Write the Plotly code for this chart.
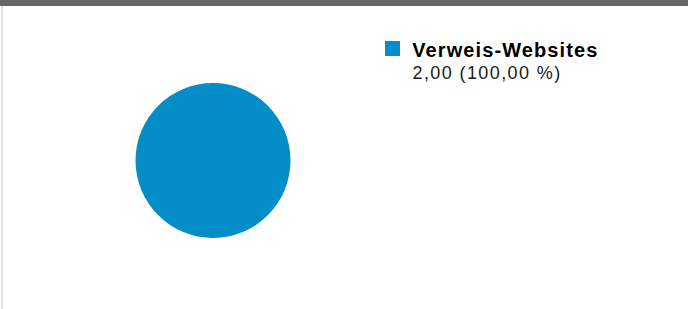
import plotly.graph_objects as go

labels = ["Verweis-Websites"]
values = [2.00]
colors = ["#058DC7"]

W, H = 688, 309
total = sum(values)
LS = [1.1, 1.4]  # letter spacing for legend label / value line (px)

fig = go.Figure()
fig.add_trace(go.Pie(
    labels=labels, values=values,
    marker=dict(colors=colors, line=dict(width=0)),
    textinfo="none", hoverinfo="label+value+percent",
    sort=False, showlegend=False,
    domain=dict(x=[(213 - 77.5) / W, (213 + 77.5) / W],
                y=[(H - 160.5 - 77.5) / H, (H - 160.5 + 77.5) / H]),
))

def fmt(v, d=2):
    return f"{v:.{d}f}".replace(".", ",")

shapes = [
    dict(type="rect", xref="paper", yref="paper", x0=0, x1=1, y0=1 - 6 / H, y1=1,
         fillcolor="#666666", line=dict(width=0), layer="above"),
    dict(type="rect", xref="paper", yref="paper", x0=1 / W, x1=3 / W, y0=0, y1=1 - 6 / H,
         fillcolor="#E3E3E3", line=dict(width=0)),
]
annotations = []
for i, (lab, val, col) in enumerate(zip(labels, values, colors)):
    top = 41 + i * 50
    line2 = f"{fmt(val)} ({fmt(val / total * 100)} %)"
    shapes.append(dict(type="rect", xref="paper", yref="paper",
                       x0=385 / W, x1=400 / W, y0=1 - (top + 15) / H, y1=1 - top / H,
                       fillcolor=col, line=dict(width=0)))
    annotations.append(dict(xref="paper", yref="paper",
                            x=(410 + len(lab) * LS[0] / 2) / W, y=1 - (top + 8.5) / H,
                            xanchor="left", yanchor="middle", showarrow=False,
                            text=lab, font=dict(family="Liberation Sans, Arial", size=20,
                                                weight="bold", color="#000000")))
    annotations.append(dict(xref="paper", yref="paper",
                            x=(410 + len(line2) * LS[1] / 2) / W, y=1 - (top + 32) / H,
                            xanchor="left", yanchor="middle", showarrow=False,
                            text=line2,
                            font=dict(family="Liberation Sans, Arial", size=18, color="#1a1a1a")))

fig.update_layout(
    width=W, height=H, margin=dict(l=0, r=0, t=0, b=0),
    paper_bgcolor="white", plot_bgcolor="white",
    shapes=shapes, annotations=annotations,
)
post = (
    "document.body.style.margin='0';"
    "var ls=[%s,%s];"
    "document.querySelectorAll('.annotation-text').forEach(function(e,i){e.style.letterSpacing=ls[i%%2]+'px';});"
) % (LS[0], LS[1])
fig.write_html("out.html", post_script=post, config={"displayModeBar": False})
